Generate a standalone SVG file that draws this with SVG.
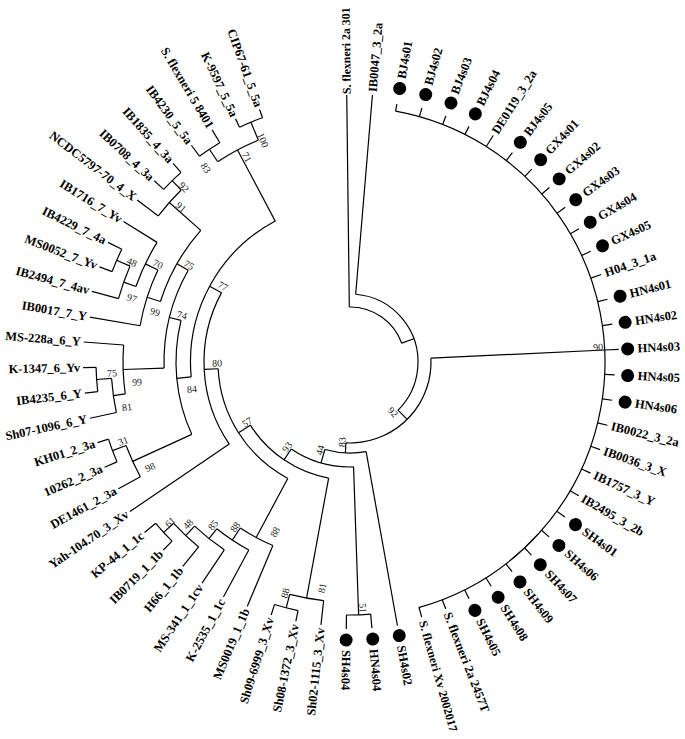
<svg xmlns="http://www.w3.org/2000/svg" width="685" height="739" viewBox="0 0 685 739">
<style>
.l{stroke:#000;stroke-width:1.2;fill:none}
.l line{stroke:#000;stroke-width:1.2}
.l circle{fill:none;stroke:#000;stroke-width:1.2}
.d{fill:#000}
text.t{font-family:"Liberation Serif",serif;font-weight:bold;font-size:12.5px;dominant-baseline:central;fill:#000}
text.f{text-anchor:end}
text.b{font-family:"Liberation Serif",serif;font-size:10px;fill:#222;text-anchor:middle;dominant-baseline:central}
</style>
<rect width="685" height="739" fill="#fff"/>
<g id="connectors" class="l">
<circle cx="350" cy="362" r="55" transform="rotate(-90.7 350 362)" stroke-dasharray="67.82 3000"/>
<circle cx="350" cy="362" r="68" transform="rotate(-85.2 350 362)" stroke-dasharray="154.65 3000"/>
<circle cx="350" cy="362" r="81" transform="rotate(-2.7 350 362)" stroke-dasharray="135.17 3000"/>
<circle cx="350" cy="362" r="255" transform="rotate(-79.7 350 362)" stroke-dasharray="685.39 3000"/>
<circle cx="350" cy="362" r="91" transform="rotate(79.8 350 362)" stroke-dasharray="41.66 3000"/>
<circle cx="350" cy="362" r="105" transform="rotate(88.05 350 362)" stroke-dasharray="65.9 3000"/>
<circle cx="350" cy="362" r="118" transform="rotate(100.425 350 362)" stroke-dasharray="97.16 3000"/>
<circle cx="350" cy="362" r="132" transform="rotate(118.128 350 362)" stroke-dasharray="135.79 3000"/>
<circle cx="350" cy="362" r="146" transform="rotate(145.8 350 362)" stroke-dasharray="159.37 3000"/>
<circle cx="350" cy="362" r="159.5" transform="rotate(174.632 350 362)" stroke-dasharray="187.68 3000"/>
<circle cx="350" cy="362" r="174" transform="rotate(155.425 350 362)" stroke-dasharray="116.66 3000"/>
<circle cx="350" cy="362" r="186" transform="rotate(178.1125 350 362)" stroke-dasharray="102.11 3000"/>
<circle cx="350" cy="362" r="199" transform="rotate(197.706 350 362)" stroke-dasharray="82.38 3000"/>
<circle cx="350" cy="362" r="240" transform="rotate(236.55 350 362)" stroke-dasharray="46.08 3000"/>
<circle cx="350" cy="362" r="255" transform="rotate(233.8 350 362)" stroke-dasharray="24.48 3000"/>
<circle cx="350" cy="362" r="259.5" transform="rotate(244.8 350 362)" stroke-dasharray="24.91 3000"/>
<circle cx="350" cy="362" r="241" transform="rotate(217.3 350 362)" stroke-dasharray="34.7 3000"/>
<circle cx="350" cy="362" r="254" transform="rotate(222.8 350 362)" stroke-dasharray="24.38 3000"/>
<circle cx="350" cy="362" r="213" transform="rotate(189.8 350 362)" stroke-dasharray="58.78 3000"/>
<circle cx="350" cy="362" r="227" transform="rotate(199.425 350 362)" stroke-dasharray="49.03 3000"/>
<circle cx="350" cy="362" r="240" transform="rotate(195.3 350 362)" stroke-dasharray="34.56 3000"/>
<circle cx="350" cy="362" r="254.5" transform="rotate(200.8 350 362)" stroke-dasharray="24.43 3000"/>
<circle cx="350" cy="362" r="227" transform="rotate(171.925 350 362)" stroke-dasharray="49.03 3000"/>
<circle cx="350" cy="362" r="239" transform="rotate(167.8 350 362)" stroke-dasharray="34.41 3000"/>
<circle cx="350" cy="362" r="254" transform="rotate(173.3 350 362)" stroke-dasharray="24.38 3000"/>
<circle cx="350" cy="362" r="239" transform="rotate(151.3 350 362)" stroke-dasharray="34.41 3000"/>
<circle cx="350" cy="362" r="253.5" transform="rotate(156.8 350 362)" stroke-dasharray="24.33 3000"/>
<circle cx="350" cy="362" r="199" transform="rotate(112.8 350 362)" stroke-dasharray="37.01 3000"/>
<circle cx="350" cy="362" r="213.5" transform="rotate(118.3 350 362)" stroke-dasharray="38.43 3000"/>
<circle cx="350" cy="362" r="226" transform="rotate(123.8 350 362)" stroke-dasharray="37.97 3000"/>
<circle cx="350" cy="362" r="239" transform="rotate(129.3 350 362)" stroke-dasharray="34.41 3000"/>
<circle cx="350" cy="362" r="252.5" transform="rotate(134.8 350 362)" stroke-dasharray="24.24 3000"/>
<circle cx="350" cy="362" r="240" transform="rotate(96.3 350 362)" stroke-dasharray="34.56 3000"/>
<circle cx="350" cy="362" r="254" transform="rotate(101.8 350 362)" stroke-dasharray="24.38 3000"/>
<circle cx="350" cy="362" r="253" transform="rotate(85.3 350 362)" stroke-dasharray="24.29 3000"/>
<line x1="405" y1="362" x2="418" y2="362" transform="rotate(-20.046 350 362)"/>
<line x1="418" y1="362" x2="431" y2="362" transform="rotate(45.108 350 362)"/>
<line x1="431" y1="362" x2="605" y2="362" transform="rotate(-2.7 350 362)"/>
<line x1="431" y1="362" x2="441" y2="362" transform="rotate(92.915 350 362)"/>
<line x1="441" y1="362" x2="455" y2="362" transform="rotate(106.03 350 362)"/>
<line x1="455" y1="362" x2="603" y2="362" transform="rotate(88.05 350 362)"/>
<line x1="455" y1="362" x2="468" y2="362" transform="rotate(124.01 350 362)"/>
<line x1="468" y1="362" x2="590" y2="362" transform="rotate(100.425 350 362)"/>
<line x1="590" y1="362" x2="604" y2="362" transform="rotate(104.55 350 362)"/>
<line x1="468" y1="362" x2="482" y2="362" transform="rotate(147.6 350 362)"/>
<line x1="482" y1="362" x2="549" y2="362" transform="rotate(118.128 350 362)"/>
<line x1="549" y1="362" x2="563.5" y2="362" transform="rotate(123.456 350 362)"/>
<line x1="563.5" y1="362" x2="576" y2="362" transform="rotate(128.6125 350 362)"/>
<line x1="576" y1="362" x2="589" y2="362" transform="rotate(133.425 350 362)"/>
<line x1="589" y1="362" x2="602.5" y2="362" transform="rotate(137.55 350 362)"/>
<line x1="482" y1="362" x2="496" y2="362" transform="rotate(177.07 350 362)"/>
<line x1="496" y1="362" x2="509.5" y2="362" transform="rotate(208.341 350 362)"/>
<line x1="509.5" y1="362" x2="524" y2="362" transform="rotate(174.632 350 362)"/>
<line x1="524" y1="362" x2="589" y2="362" transform="rotate(155.425 350 362)"/>
<line x1="589" y1="362" x2="603.5" y2="362" transform="rotate(159.55 350 362)"/>
<line x1="524" y1="362" x2="536" y2="362" transform="rotate(193.839 350 362)"/>
<line x1="536" y1="362" x2="577" y2="362" transform="rotate(178.1125 350 362)"/>
<line x1="577" y1="362" x2="589" y2="362" transform="rotate(171.925 350 362)"/>
<line x1="589" y1="362" x2="604" y2="362" transform="rotate(176.05 350 362)"/>
<line x1="536" y1="362" x2="549" y2="362" transform="rotate(209.566 350 362)"/>
<line x1="549" y1="362" x2="563" y2="362" transform="rotate(197.706 350 362)"/>
<line x1="563" y1="362" x2="577" y2="362" transform="rotate(205.6125 350 362)"/>
<line x1="577" y1="362" x2="590" y2="362" transform="rotate(199.425 350 362)"/>
<line x1="590" y1="362" x2="604.5" y2="362" transform="rotate(203.55 350 362)"/>
<line x1="549" y1="362" x2="591" y2="362" transform="rotate(221.425 350 362)"/>
<line x1="591" y1="362" x2="604" y2="362" transform="rotate(225.55 350 362)"/>
<line x1="509.5" y1="362" x2="590" y2="362" transform="rotate(242.05 350 362)"/>
<line x1="590" y1="362" x2="605" y2="362" transform="rotate(236.55 350 362)"/>
<line x1="590" y1="362" x2="609.5" y2="362" transform="rotate(247.55 350 362)"/>
<line x1="405" y1="362" x2="617" y2="362" transform="rotate(-90.7 350 362)"/>
<line x1="418" y1="362" x2="618" y2="362" transform="rotate(-85.2 350 362)"/>
<line x1="605" y1="362" x2="612" y2="362" transform="rotate(-79.7 350 362)"/>
<line x1="605" y1="362" x2="614" y2="362" transform="rotate(-74.2 350 362)"/>
<line x1="605" y1="362" x2="614" y2="362" transform="rotate(-68.7 350 362)"/>
<line x1="605" y1="362" x2="614" y2="362" transform="rotate(-63.2 350 362)"/>
<line x1="605" y1="362" x2="618" y2="362" transform="rotate(-57.7 350 362)"/>
<line x1="605" y1="362" x2="615" y2="362" transform="rotate(-52.2 350 362)"/>
<line x1="605" y1="362" x2="615" y2="362" transform="rotate(-46.7 350 362)"/>
<line x1="605" y1="362" x2="615" y2="362" transform="rotate(-41.2 350 362)"/>
<line x1="605" y1="362" x2="615" y2="362" transform="rotate(-35.7 350 362)"/>
<line x1="605" y1="362" x2="615" y2="362" transform="rotate(-30.2 350 362)"/>
<line x1="605" y1="362" x2="615" y2="362" transform="rotate(-24.7 350 362)"/>
<line x1="605" y1="362" x2="616" y2="362" transform="rotate(-19.2 350 362)"/>
<line x1="605" y1="362" x2="615" y2="362" transform="rotate(-13.7 350 362)"/>
<line x1="605" y1="362" x2="615" y2="362" transform="rotate(-8.2 350 362)"/>
<line x1="605" y1="362" x2="619" y2="362" transform="rotate(-2.7 350 362)"/>
<line x1="605" y1="362" x2="615" y2="362" transform="rotate(2.8 350 362)"/>
<line x1="605" y1="362" x2="615" y2="362" transform="rotate(8.3 350 362)"/>
<line x1="605" y1="362" x2="615" y2="362" transform="rotate(13.8 350 362)"/>
<line x1="605" y1="362" x2="615" y2="362" transform="rotate(19.3 350 362)"/>
<line x1="605" y1="362" x2="615" y2="362" transform="rotate(24.8 350 362)"/>
<line x1="605" y1="362" x2="615" y2="362" transform="rotate(30.3 350 362)"/>
<line x1="605" y1="362" x2="615" y2="362" transform="rotate(35.8 350 362)"/>
<line x1="605" y1="362" x2="615" y2="362" transform="rotate(41.3 350 362)"/>
<line x1="605" y1="362" x2="615" y2="362" transform="rotate(46.8 350 362)"/>
<line x1="605" y1="362" x2="615" y2="362" transform="rotate(52.3 350 362)"/>
<line x1="605" y1="362" x2="615" y2="362" transform="rotate(57.8 350 362)"/>
<line x1="605" y1="362" x2="615" y2="362" transform="rotate(63.3 350 362)"/>
<line x1="605" y1="362" x2="615" y2="362" transform="rotate(68.8 350 362)"/>
<line x1="605" y1="362" x2="615" y2="362" transform="rotate(74.3 350 362)"/>
<line x1="441" y1="362" x2="618" y2="362" transform="rotate(79.8 350 362)"/>
<line x1="603" y1="362" x2="617" y2="362" transform="rotate(85.3 350 362)"/>
<line x1="603" y1="362" x2="617" y2="362" transform="rotate(90.8 350 362)"/>
<line x1="590" y1="362" x2="614.5" y2="362" transform="rotate(96.3 350 362)"/>
<line x1="604" y1="362" x2="615" y2="362" transform="rotate(101.8 350 362)"/>
<line x1="604" y1="362" x2="615" y2="362" transform="rotate(107.3 350 362)"/>
<line x1="549" y1="362" x2="615" y2="362" transform="rotate(112.8 350 362)"/>
<line x1="563.5" y1="362" x2="617" y2="362" transform="rotate(118.3 350 362)"/>
<line x1="576" y1="362" x2="616" y2="362" transform="rotate(123.8 350 362)"/>
<line x1="589" y1="362" x2="614" y2="362" transform="rotate(129.3 350 362)"/>
<line x1="602.5" y1="362" x2="615" y2="362" transform="rotate(134.8 350 362)"/>
<line x1="602.5" y1="362" x2="617" y2="362" transform="rotate(140.3 350 362)"/>
<line x1="496" y1="362" x2="616" y2="362" transform="rotate(145.8 350 362)"/>
<line x1="589" y1="362" x2="614" y2="362" transform="rotate(151.3 350 362)"/>
<line x1="603.5" y1="362" x2="617" y2="362" transform="rotate(156.8 350 362)"/>
<line x1="603.5" y1="362" x2="615" y2="362" transform="rotate(162.3 350 362)"/>
<line x1="589" y1="362" x2="616" y2="362" transform="rotate(167.8 350 362)"/>
<line x1="604" y1="362" x2="617" y2="362" transform="rotate(173.3 350 362)"/>
<line x1="604" y1="362" x2="617" y2="362" transform="rotate(178.8 350 362)"/>
<line x1="577" y1="362" x2="617" y2="362" transform="rotate(184.3 350 362)"/>
<line x1="563" y1="362" x2="614" y2="362" transform="rotate(189.8 350 362)"/>
<line x1="590" y1="362" x2="617.5" y2="362" transform="rotate(195.3 350 362)"/>
<line x1="604.5" y1="362" x2="618" y2="362" transform="rotate(200.8 350 362)"/>
<line x1="604.5" y1="362" x2="620" y2="362" transform="rotate(206.3 350 362)"/>
<line x1="577" y1="362" x2="616.5" y2="362" transform="rotate(211.8 350 362)"/>
<line x1="591" y1="362" x2="617.5" y2="362" transform="rotate(217.3 350 362)"/>
<line x1="604" y1="362" x2="616.7" y2="362" transform="rotate(222.8 350 362)"/>
<line x1="604" y1="362" x2="616" y2="362" transform="rotate(228.3 350 362)"/>
<line x1="605" y1="362" x2="618.6" y2="362" transform="rotate(233.8 350 362)"/>
<line x1="605" y1="362" x2="620" y2="362" transform="rotate(239.3 350 362)"/>
<line x1="609.5" y1="362" x2="618.7" y2="362" transform="rotate(244.8 350 362)"/>
<line x1="609.5" y1="362" x2="618.2" y2="362" transform="rotate(250.3 350 362)"/>
</g>
<g id="tips">
<g id="t01" transform="rotate(-90.7 350 362)"><text class="t" x="618" y="362" style="font-size:11.8px">S. flexneri 2a 301</text></g>
<g id="t02" transform="rotate(-85.2 350 362)"><text class="t" x="621" y="362">IB0047_3_2a</text></g>
<g id="t03" transform="rotate(-79.7 350 362)"><circle class="d" cx="628" cy="362" r="6.5"/><text class="t" x="638" y="362">BJ4s01</text></g>
<g id="t04" transform="rotate(-74.2 350 362)"><circle class="d" cx="628" cy="362" r="6.5"/><text class="t" x="638" y="362">BJ4s02</text></g>
<g id="t05" transform="rotate(-68.7 350 362)"><circle class="d" cx="628" cy="362" r="6.5"/><text class="t" x="638" y="362">BJ4s03</text></g>
<g id="t06" transform="rotate(-63.2 350 362)"><circle class="d" cx="628" cy="362" r="6.5"/><text class="t" x="638" y="362">BJ4s04</text></g>
<g id="t07" transform="rotate(-57.7 350 362)"><text class="t" x="621" y="362">DE0119_3_2a</text></g>
<g id="t08" transform="rotate(-52.2 350 362)"><circle class="d" cx="628" cy="362" r="6.5"/><text class="t" x="638" y="362">BJ4s05</text></g>
<g id="t09" transform="rotate(-46.7 350 362)"><circle class="d" cx="628" cy="362" r="6.5"/><text class="t" x="638" y="362">GX4s01</text></g>
<g id="t10" transform="rotate(-41.2 350 362)"><circle class="d" cx="628" cy="362" r="6.5"/><text class="t" x="638" y="362">GX4s02</text></g>
<g id="t11" transform="rotate(-35.7 350 362)"><circle class="d" cx="628" cy="362" r="6.5"/><text class="t" x="638" y="362">GX4s03</text></g>
<g id="t12" transform="rotate(-30.2 350 362)"><circle class="d" cx="628" cy="362" r="6.5"/><text class="t" x="638" y="362">GX4s04</text></g>
<g id="t13" transform="rotate(-24.7 350 362)"><circle class="d" cx="628" cy="362" r="6.5"/><text class="t" x="638" y="362">GX4s05</text></g>
<g id="t14" transform="rotate(-19.2 350 362)"><text class="t" x="620" y="362">H04_3_1a</text></g>
<g id="t15" transform="rotate(-13.7 350 362)"><circle class="d" cx="628" cy="362" r="6.5"/><text class="t" x="638" y="362">HN4s01</text></g>
<g id="t16" transform="rotate(-8.2 350 362)"><circle class="d" cx="628" cy="362" r="6.5"/><text class="t" x="638" y="362">HN4s02</text></g>
<g id="t17" transform="rotate(-2.7 350 362)"><circle class="d" cx="628" cy="362" r="6.5"/><text class="t" x="638" y="362">HN4s03</text></g>
<g id="t18" transform="rotate(2.8 350 362)"><circle class="d" cx="628" cy="362" r="6.5"/><text class="t" x="638" y="362">HN4s05</text></g>
<g id="t19" transform="rotate(8.3 350 362)"><circle class="d" cx="628" cy="362" r="6.5"/><text class="t" x="638" y="362">HN4s06</text></g>
<g id="t20" transform="rotate(13.8 350 362)"><text class="t" x="619" y="362">IB0022_3_2a</text></g>
<g id="t21" transform="rotate(19.3 350 362)"><text class="t" x="619" y="362">IB0036_3_X</text></g>
<g id="t22" transform="rotate(24.8 350 362)"><text class="t" x="619" y="362">IB1757_3_Y</text></g>
<g id="t23" transform="rotate(30.3 350 362)"><text class="t" x="619" y="362">IB2495_3_2b</text></g>
<g id="t24" transform="rotate(35.8 350 362)"><circle class="d" cx="628" cy="362" r="6.5"/><text class="t" x="638" y="362">SH4s01</text></g>
<g id="t25" transform="rotate(41.3 350 362)"><circle class="d" cx="628" cy="362" r="6.5"/><text class="t" x="638" y="362">SH4s06</text></g>
<g id="t26" transform="rotate(46.8 350 362)"><circle class="d" cx="628" cy="362" r="6.5"/><text class="t" x="638" y="362">SH4s07</text></g>
<g id="t27" transform="rotate(52.3 350 362)"><circle class="d" cx="628" cy="362" r="6.5"/><text class="t" x="638" y="362">SH4s09</text></g>
<g id="t28" transform="rotate(57.8 350 362)"><circle class="d" cx="628" cy="362" r="6.5"/><text class="t" x="638" y="362">SH4s08</text></g>
<g id="t29" transform="rotate(63.3 350 362)"><circle class="d" cx="628" cy="362" r="6.5"/><text class="t" x="638" y="362">SH4s05</text></g>
<g id="t30" transform="rotate(68.8 350 362)"><text class="t" x="619" y="362">S. flexneri 2a 2457T</text></g>
<g id="t31" transform="rotate(74.3 350 362)"><text class="t" x="619" y="362" style="font-size:12px">S. flexneri Xv 2002017</text></g>
<g id="t32" transform="rotate(79.8 350 362)"><circle class="d" cx="628" cy="362" r="6.5"/><text class="t" x="638" y="362">SH4s02</text></g>
<g id="t33" transform="rotate(85.3 350 362)"><circle class="d" cx="628" cy="362" r="6.5"/><text class="t" x="638" y="362">HN4s04</text></g>
<g id="t34" transform="rotate(90.8 350 362)"><circle class="d" cx="628" cy="362" r="6.5"/><text class="t" x="638" y="362">SH4s04</text></g>
<g id="t35" transform="rotate(96.3 350 362)"><text class="t f" x="617.5" y="362" transform="rotate(180 617.5 362)">Sh02-1115_3_Xv</text></g>
<g id="t36" transform="rotate(101.8 350 362)"><text class="t f" x="618" y="362" transform="rotate(180 618 362)">Sh08-1372_3_Xv</text></g>
<g id="t37" transform="rotate(107.3 350 362)"><text class="t f" x="618" y="362" transform="rotate(180 618 362)">Sh09-6999_3_Xv</text></g>
<g id="t38" transform="rotate(112.8 350 362)"><text class="t f" x="618" y="362" transform="rotate(180 618 362)">MS0019_1_1b</text></g>
<g id="t39" transform="rotate(118.3 350 362)"><text class="t f" x="620" y="362" transform="rotate(180 620 362)">K-2535_1_1c</text></g>
<g id="t40" transform="rotate(123.8 350 362)"><text class="t f" x="619" y="362" transform="rotate(180 619 362)">MS-341_1_1cv</text></g>
<g id="t41" transform="rotate(129.3 350 362)"><text class="t f" x="617" y="362" transform="rotate(180 617 362)">H66_1_1b</text></g>
<g id="t42" transform="rotate(134.8 350 362)"><text class="t f" x="618" y="362" transform="rotate(180 618 362)">IB0719_1_1b</text></g>
<g id="t43" transform="rotate(140.3 350 362)"><text class="t f" x="620" y="362" transform="rotate(180 620 362)">KP-44_1_1c</text></g>
<g id="t44" transform="rotate(145.8 350 362)"><text class="t f" x="619" y="362" transform="rotate(180 619 362)">Yah-104.70_3_Xv</text></g>
<g id="t45" transform="rotate(151.3 350 362)"><text class="t f" x="617" y="362" transform="rotate(180 617 362)">DE1461_2_3a</text></g>
<g id="t46" transform="rotate(156.8 350 362)"><text class="t f" x="620" y="362" transform="rotate(180 620 362)">10262_2_3a</text></g>
<g id="t47" transform="rotate(162.3 350 362)"><text class="t f" x="618" y="362" transform="rotate(180 618 362)">KH01_2_3a</text></g>
<g id="t48" transform="rotate(167.8 350 362)"><text class="t f" x="619" y="362" transform="rotate(180 619 362)">Sh07-1096_6_Y</text></g>
<g id="t49" transform="rotate(173.3 350 362)"><text class="t f" x="620" y="362" transform="rotate(180 620 362)">IB4235_6_Y</text></g>
<g id="t50" transform="rotate(178.8 350 362)"><text class="t f" x="620" y="362" transform="rotate(180 620 362)">K-1347_6_Yv</text></g>
<g id="t51" transform="rotate(184.3 350 362)"><text class="t f" x="620" y="362" transform="rotate(180 620 362)">MS-228a_6_Y</text></g>
<g id="t52" transform="rotate(189.8 350 362)"><text class="t f" x="617" y="362" transform="rotate(180 617 362)">IB0017_7_Y</text></g>
<g id="t53" transform="rotate(195.3 350 362)"><text class="t f" x="620.5" y="362" transform="rotate(180 620.5 362)">IB2494_7_4av</text></g>
<g id="t54" transform="rotate(200.8 350 362)"><text class="t f" x="621" y="362" transform="rotate(180 621 362)">MS0052_7_Yv</text></g>
<g id="t55" transform="rotate(206.3 350 362)"><text class="t f" x="623" y="362" transform="rotate(180 623 362)">IB4229_7_4a</text></g>
<g id="t56" transform="rotate(211.8 350 362)"><text class="t f" x="619.5" y="362" transform="rotate(180 619.5 362)">IB1716_7_Yv</text></g>
<g id="t57" transform="rotate(217.3 350 362)"><text class="t f" x="620.5" y="362" transform="rotate(180 620.5 362)">NCDC5797-70_4_X</text></g>
<g id="t58" transform="rotate(222.8 350 362)"><text class="t f" x="619.7" y="362" transform="rotate(180 619.7 362)">IB0708_4_3a</text></g>
<g id="t59" transform="rotate(228.3 350 362)"><text class="t f" x="619" y="362" transform="rotate(180 619 362)">IB1835_4_3a</text></g>
<g id="t60" transform="rotate(233.8 350 362)"><text class="t f" x="621.6" y="362" transform="rotate(180 621.6 362)">IB4230_5_5a</text></g>
<g id="t61" transform="rotate(239.3 350 362)"><text class="t f" x="623" y="362" transform="rotate(180 623 362)">S. flexneri 5 8401</text></g>
<g id="t62" transform="rotate(244.8 350 362)"><text class="t f" x="621.7" y="362" transform="rotate(180 621.7 362)">K-9597_5_5a</text></g>
<g id="t63" transform="rotate(250.3 350 362)"><text class="t f" x="621.2" y="362" transform="rotate(180 621.2 362)">CIP67-61_5_5a</text></g>
</g>
<g id="bootstrap">
<text class="b" transform="translate(263 140) rotate(67.5)">100</text>
<text class="b" transform="translate(247 157) rotate(62)">71</text>
<text class="b" transform="translate(206 168) rotate(56.5)">83</text>
<text class="b" transform="translate(184 187) rotate(45.5)">92</text>
<text class="b" transform="translate(181 207) rotate(41)">91</text>
<text class="b" transform="translate(132 262) rotate(23.5)">48</text>
<text class="b" transform="translate(158 264) rotate(25.6)">70</text>
<text class="b" transform="translate(189 265) rotate(29.6)">75</text>
<text class="b" transform="translate(223 286) rotate(28.3)">77</text>
<text class="b" transform="translate(132 298) rotate(19.4)">97</text>
<text class="b" transform="translate(155 312) rotate(17.7)">99</text>
<text class="b" transform="translate(182 315) rotate(13.8)">74</text>
<text class="b" transform="translate(217 363) rotate(-3)">80</text>
<text class="b" transform="translate(137 382) rotate(-2)">99</text>
<text class="b" transform="translate(112 373) rotate(-4)">75</text>
<text class="b" transform="translate(192 389) rotate(-5.4)">84</text>
<text class="b" transform="translate(127 407) rotate(-8)">81</text>
<text class="b" transform="translate(123 441) rotate(-20.5)">31</text>
<text class="b" transform="translate(150 467) rotate(-24.6)">98</text>
<text class="b" transform="translate(247 422) rotate(-32.4)">57</text>
<text class="b" transform="translate(287 447) rotate(-56)">93</text>
<text class="b" transform="translate(320 450) rotate(-74)">44</text>
<text class="b" transform="translate(342 442) rotate(-87)">83</text>
<text class="b" transform="translate(393 412) rotate(45)">92</text>
<text class="b" transform="translate(598 347) rotate(-2.7)">90</text>
<text class="b" transform="translate(363 608) rotate(88)">51</text>
<text class="b" transform="translate(285 593) rotate(-75.5)">88</text>
<text class="b" transform="translate(322 588) rotate(-79.6)">81</text>
<text class="b" transform="translate(275 532) rotate(-62)">88</text>
<text class="b" transform="translate(235 527) rotate(-56.5)">88</text>
<text class="b" transform="translate(213 525) rotate(-51.4)">85</text>
<text class="b" transform="translate(188 524) rotate(-46.6)">48</text>
<text class="b" transform="translate(170 522) rotate(-42.5)">61</text>
</g>
</svg>
